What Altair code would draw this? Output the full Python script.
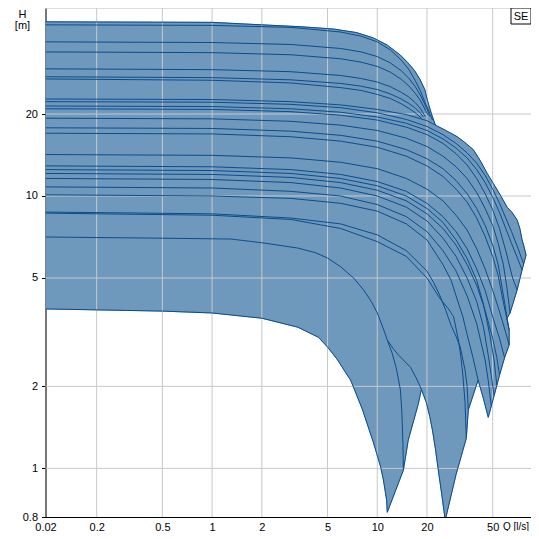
import altair as alt
import pandas as pd

FILL = "#6f98bd"
LINE = "#0b4d8b"
GRID = "#c8c8c8"
FONT = "Liberation Sans"

q0 = 0.098  # left edge of the flow axis

# ---- pump curves (Q [l/s], H [m]) ----
a1 = [(q0, 43.6), (1, 43.4), (2, 42.5), (3.5, 41.8), (5.45, 41.0), (7.5, 39.8), (9.5, 38.0), (11.5, 35.8), (13.8, 32.9), (15.2, 31.0), (16.8, 28.9), (18.2, 26.7), (19.4, 24.6), (20.1, 22.5), (21.3, 20.0), (22.5, 18.2)]
a2 = [(q0, 42.5), (1, 42.3), (3, 41.6), (6, 40.0), (8, 38.6), (10, 36.8), (12, 34.4), (14, 31.5), (15.5, 29.2), (17, 26.5), (18.3, 24.2), (19.5, 22.0), (20.6, 20.4), (21.6, 19.0)]
a3 = [(q0, 36.8), (1, 36.6), (3, 36.0), (6, 34.8), (8, 33.8), (10, 32.5), (12, 30.8), (14, 28.8), (15.5, 27.1), (17, 25.2), (18.2, 23.5), (19.2, 22.0), (20.1, 20.7), (20.8, 19.6)]
a4 = [(q0, 33.8), (1, 33.6), (3, 33.0), (6, 31.9), (8, 31.0), (10, 29.9), (12, 28.5), (14, 26.8), (15.5, 25.4), (17, 23.8), (18.1, 22.6), (19, 21.4), (20.3, 19.8)]
a5 = [(q0, 29.3), (1, 29.1), (3, 28.6), (6, 27.7), (8, 27.0), (10, 26.2), (12, 25.2), (14, 24.0), (15.5, 23.1), (17, 22.0), (18.3, 20.9), (19.5, 19.6)]
a6 = [(q0, 27.4), (1, 27.2), (3, 26.7), (6, 25.9), (8, 25.3), (10, 24.6), (12, 23.7), (14, 22.7), (15.5, 21.9), (17, 21.0), (18.1, 20.3), (19.0, 19.5)]
a7 = [(q0, 26.9), (1, 26.6), (3, 26.0), (6, 25.0), (8, 24.4), (10, 23.6), (12, 22.8), (14, 21.8), (15.5, 21.0), (17, 20.2), (18.5, 19.3)]

t4 = [(q0, 22.7), (1, 22.6), (3, 22.2), (6, 21.6), (10, 20.8), (15, 19.9), (20, 18.9), (22.5, 18.2), (26, 17.4), (30.5, 16.5), (34, 15.7), (38.1, 14.8), (42, 13.5), (46.3, 12.1), (50.5, 11.1), (55.5, 10.1), (61.1, 9.1), (65.5, 8.7), (70.3, 8.16), (73, 7.6), (75.3, 6.9), (77.5, 6.5), (79.6, 6.07)]
c222 = [(q0, 22.2), (1, 22.1), (3, 21.7), (6, 21.1), (10, 20.2), (15, 19.1), (20, 18.0), (25, 16.8), (30, 15.6), (35, 14.4), (40, 13.2), (45, 11.9), (50, 10.6), (55, 9.4), (60, 8.3), (65, 7.4), (70, 6.6), (77, 5.63)]
c214 = [(q0, 21.4), (1, 21.3), (3, 20.9), (6, 20.3), (10, 19.5), (15, 18.5), (20, 17.4), (25, 16.2), (30, 15.0), (35, 13.8), (40, 12.5), (45, 11.2), (50, 9.9), (55, 8.7), (60, 7.6), (65, 6.7), (70, 6.0), (75.3, 5.35)]
c209 = [(q0, 20.9), (1, 20.8), (3, 20.4), (6, 19.8), (10, 19.0), (15, 17.9), (20, 16.8), (25, 15.6), (30, 14.3), (35, 13.0), (40, 11.6), (45, 10.2), (50, 8.9), (55, 7.6), (60, 6.3), (66, 5.0), (70.3, 4.52)]
c193 = [(q0, 19.3), (1, 19.2), (3, 18.8), (6, 18.2), (10, 17.4), (15, 16.3), (20, 15.2), (25, 14.0), (30, 12.8), (35, 11.6), (40, 10.3), (45, 9.0), (50, 7.8), (54, 6.7), (58, 5.6), (61, 4.6), (63.7, 3.72)]
c178 = [(q0, 17.8), (1, 17.7), (3, 17.3), (6, 16.7), (10, 15.9), (15, 14.8), (20, 13.7), (25, 12.6), (30, 11.4), (35, 10.2), (40, 9.0), (45, 7.8), (50, 6.6), (54, 5.6), (57, 4.6), (59.3, 4.0), (61.1, 3.56)]
c170 = [(q0, 17.0), (1, 16.9), (3, 16.5), (6, 15.9), (10, 15.1), (15, 14.0), (20, 12.9), (25, 11.8), (30, 10.6), (35, 9.5), (40, 8.3), (45, 7.1), (50, 6.0), (54, 5.1), (57, 4.3), (60, 3.7), (62.9, 3.22)]
e4 = [(62.9, 2.84), (62.9, 3.22), (61.1, 3.56), (63.7, 3.72), (70.3, 4.52), (75.3, 5.35), (79.6, 6.07)]

t3 = [(q0, 14.2), (1, 14.1), (3, 13.8), (6, 13.3), (10, 12.6), (15, 11.6), (20, 10.6), (25, 9.6), (30, 8.5), (35, 7.5), (40, 6.4), (45, 5.4), (50, 4.5), (54, 3.9), (57, 3.5), (60, 3.15), (62.9, 2.84)]
c129 = [(q0, 12.9), (1, 12.8), (3, 12.5), (6, 12.0), (10, 11.3), (15, 10.4), (20, 9.4), (25, 8.4), (30, 7.4), (35, 6.4), (40, 5.4), (45, 4.5), (50, 3.6), (55, 3.0), (59, 2.55)]
c125 = [(q0, 12.5), (1, 12.4), (3, 12.1), (6, 11.6), (10, 10.9), (15, 10.0), (20, 9.0), (25, 8.0), (30, 6.9), (35, 5.9), (40, 4.9), (44, 4.0), (48, 3.1), (51, 2.5), (53, 2.02)]
c121 = [(q0, 12.1), (1, 12.0), (3, 11.7), (6, 11.2), (10, 10.5), (15, 9.6), (20, 8.6), (25, 7.6), (30, 6.6), (35, 5.6), (40, 4.7), (45, 3.8), (50, 3.0), (53, 2.55), (55, 2.2)]
c116 = [(q0, 11.6), (1, 11.5), (3, 11.2), (6, 10.7), (10, 10.0), (15, 9.1), (20, 8.1), (25, 7.0), (30, 6.0), (35, 5.0), (40, 4.1), (44, 3.3), (47, 2.6), (49, 2.2), (51, 1.85)]
c108 = [(q0, 10.8), (1, 10.7), (3, 10.4), (6, 10.0), (10, 9.3), (15, 8.4), (20, 7.4), (25, 6.3), (30, 5.3), (35, 4.3), (40, 3.4), (45, 2.5), (47, 2.1), (49, 1.7)]
e3 = [(62.9, 2.84), (59, 2.55), (55, 2.2), (53, 2.02), (51, 1.85), (47, 1.54)]
b3_tail = [(40.8, 2.11), (44, 1.8), (47, 1.54)]

t2 = [(q0, 10.1), (1, 10.0), (3, 9.8), (6, 9.4), (10, 8.8), (15, 7.9), (20, 6.9), (25, 5.6), (28, 4.9), (30, 4.3), (33, 3.6), (35, 3.1), (38, 2.55), (40.8, 2.11)]
c87 = [(q0, 8.73), (1, 8.6), (3, 8.3), (6, 7.9), (10, 7.2), (15, 6.3), (20, 5.3), (22, 4.8), (24, 4.3), (26, 3.8), (28, 3.35), (30, 3.05), (31.8, 2.79), (34, 2.3), (35, 2.0), (35.6, 1.64)]
c86 = [(q0, 8.65), (1, 8.5), (3, 8.2), (6, 7.6), (10, 6.8), (15, 6.0), (20, 5.0), (24, 4.2), (27, 3.85), (29, 3.6), (31, 2.96), (32, 2.6), (33, 2.2), (34, 1.75), (34.6, 1.29)]
e2 = [(40.8, 2.11), (35.6, 1.64), (34.6, 1.29), (30, 0.95), (25.8, 0.646)]

c707 = [(q0, 7.07), (0.5, 7.0), (1.3, 6.95), (2.06, 6.72), (3.3, 6.44), (4.2, 6.2), (5, 5.92), (6, 5.5), (7.19, 5.0), (8.26, 4.52), (9.2, 4.1), (10, 3.72), (10.8, 3.3), (11.5, 2.96)]
c707_tail = [(12.5, 2.75), (13.5, 2.6), (15.9, 2.35), (17.2, 2.15), (18.5, 1.95), (19.8, 1.75), (20.8, 1.55), (21.6, 1.38), (22.5, 1.18), (23.4, 0.99), (24.6, 0.8), (25.8, 0.646)]
c707_steep = [(11.5, 2.96), (12.3, 2.65), (13.0, 2.35), (13.8, 1.95), (14.1, 1.6), (14.3, 1.25), (14.4, 0.986)]
c385 = [(q0, 3.85), (0.5, 3.78), (1, 3.72), (2, 3.56), (3.3, 3.3), (4.4, 3.03), (5, 2.79), (5.76, 2.5), (6.4, 2.26), (6.9, 2.11), (8.15, 1.64), (9.5, 1.24), (10.5, 1.01), (10.9, 0.906), (11.4, 0.765), (11.5, 0.69)]
e1 = [(18.5, 1.95), (17.7, 1.72), (15.4, 1.27), (14.4, 0.986), (11.5, 0.69)]

x_ticks = [q0, 0.2, 0.5, 1, 2, 5, 10, 20, 50]
y_ticks = [0.663, 1, 2, 5, 10, 20]
grid_x = [0.2, 0.5, 1, 2, 5, 10, 20, 50]
grid_y = [1, 2, 5, 10, 20]

# ---- operating ranges (filled regions) built from the curves ----
polys = {
    "A": a1 + t4[:8][::-1][1:],
    "P4": t4 + e4[::-1][1:] + t3[::-1][1:],
    "P3": t3 + e3[1:] + (t2 + b3_tail[1:])[::-1][1:],
    "P2": t2 + e2[1:] + (c707 + c707_tail)[::-1][1:],
    "P1": c707 + c707_tail[:5] + e1[1:] + c385[::-1][1:],
}
lines = {
    "a1": a1, "a2": a2, "a3": a3, "a4": a4, "a5": a5, "a6": a6, "a7": a7,
    "t4": t4, "c222": c222, "c214": c214, "c209": c209, "c193": c193, "c178": c178, "c170": c170, "e4": e4,
    "t3": t3, "c129": c129, "c125": c125, "c121": c121, "c116": c116, "c108": c108, "e3": e3, "b3": b3_tail,
    "t2": t2, "c87": c87, "c86": c86, "e2": e2,
    "c707": c707 + c707_tail, "c707s": c707_steep, "c385": c385, "e1": e1,
}


def frame(d, key):
    rows = []
    for name, pts in d.items():
        for i, (q, h) in enumerate(pts):
            rows.append({key: name, "i": i, "Q": q, "H": h})
    return pd.DataFrame(rows)


poly_df = frame(polys, "poly")
line_df = frame(lines, "curve")

PW, PH = 485.5, 509

xscale = alt.Scale(type="log", domain=[q0, 85.3], nice=False)
yscale = alt.Scale(type="log", domain=[0.663, 49.0], nice=False)

xaxis = alt.Axis(
    values=x_ticks, grid=False, ticks=False,
    labelExpr="datum.value < 0.1 ? '0.02' : datum.value + ''",
    domainColor="black",
    labelColor="black", labelFont=FONT, labelFontSize=11, labelPadding=4,
    labelFlush=False, labelOverlap=False,
    title="Q [l/s]", titleFont=FONT, titleFontSize=10, titleFontWeight="normal",
    titleColor="black", titleX=470, titleY=9.5, titleBaseline="middle", titleAlign="center",
)
yaxis = alt.Axis(
    values=y_ticks, grid=False,
    labelExpr="datum.value < 0.9 ? '0.8' : datum.value + ''",
    domainColor="black", tickColor="black", tickSize=4,
    labelColor="black", labelFont=FONT, labelFontSize=11, labelPadding=4,
    labelOverlap=False, title="",
)

X = alt.X("Q:Q", scale=xscale, axis=xaxis)
Y = alt.Y("H:Q", scale=yscale, axis=yaxis)

fills = alt.Chart(poly_df).mark_line(fill=FILL, stroke=FILL, strokeWidth=1, clip=True).encode(
    x=X, y=Y, detail="poly:N", order="i:Q"
)
gx = alt.Chart(pd.DataFrame({"Q": grid_x})).mark_rule(color=GRID, strokeWidth=1).encode(x=X)
gy = alt.Chart(pd.DataFrame({"H": grid_y})).mark_rule(color=GRID, strokeWidth=1).encode(y=Y)
curves = alt.Chart(line_df).mark_line(stroke=LINE, strokeWidth=1, clip=True).encode(
    x=X, y=Y, detail="curve:N", order="i:Q"
)

one = pd.DataFrame({"k": [0]})
se_box = alt.Chart(one).mark_rect(fill="white", stroke="black", strokeWidth=1).encode(
    x=alt.value(465.5), x2=alt.value(485.5), y=alt.value(0), y2=alt.value(16)
)
se_text = alt.Chart(one).mark_text(text="SE", font=FONT, fontSize=11, color="black").encode(
    x=alt.value(475.5), y=alt.value(8.5)
)
h_text = alt.Chart(one).mark_text(text="H", font=FONT, fontSize=11, color="black").encode(
    x=alt.value(-23), y=alt.value(6.5)
)
m_text = alt.Chart(one).mark_text(text="[m]", font=FONT, fontSize=11, color="black").encode(
    x=alt.value(-23), y=alt.value(18)
)

chart = alt.layer(fills, gx, gy, curves, se_box, se_text, h_text, m_text).properties(
    width=PW, height=PH, autosize="none",
    padding={"left": 37.5, "top": 0, "right": 0, "bottom": 14},
).configure_view(stroke="black", strokeWidth=1).configure(background="white")

chart.save("out.html", embed_options={"renderer": "svg", "actions": False})
